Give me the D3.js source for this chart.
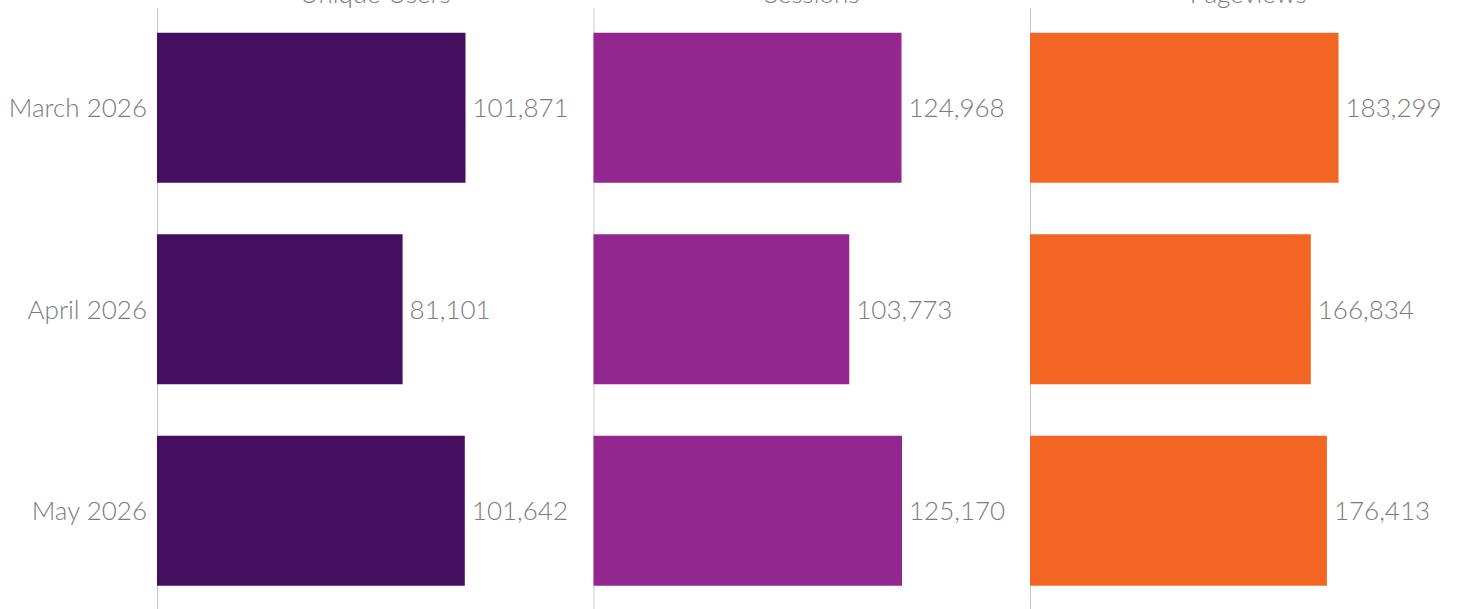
<!DOCTYPE html>
<html>
<head>
<meta charset="utf-8">
<script src="https://cdn.jsdelivr.net/npm/d3@7"></script>
<style>
  body { margin: 0; background: #fff; overflow: hidden; }
  text { font-family: Lato, "Open Sans", sans-serif; font-weight: 300; fill: #7b7b7b; }
</style>
</head>
<body>
<div id="chart"></div>
<script>
// --- Data ---
const months = ["March 2026", "April 2026", "May 2026"];
const metrics = ["Unique Users", "Sessions", "Pageviews"];
const uniqueUsers = [101871, 81101, 101642];
const sessions = [124968, 103773, 125170];
const pageviews = [183299, 166834, 176413];
const colors = ["#450f60", "#91278f", "#f36523"];

const series = [uniqueUsers, sessions, pageviews];

const width = 1458;
const height = 609;
const margin = { top: 7, left: 157 };
const panelW = 436.5;
const fontSize = 26;

const svg = d3.select("#chart")
  .append("svg")
  .attr("width", width)
  .attr("height", height);

// panels across, months down
const px = d3.scaleBand()
  .domain(metrics)
  .range([margin.left, margin.left + panelW * metrics.length]);

const y = d3.scaleBand()
  .domain(months)
  .range([margin.top, margin.top + 604.5])
  .paddingInner(0.2556)
  .paddingOuter(0.1278);

const fmt = d3.format(",");

// --- Row labels ---
svg.append("g")
  .selectAll("text")
  .data(months)
  .join("text")
  .attr("x", margin.left - 10)
  .attr("y", d => y(d) + y.bandwidth() / 2)
  .attr("dy", "0.36em")
  .attr("text-anchor", "end")
  .attr("font-size", fontSize)
  .text(d => d);

metrics.forEach((m, i) => {
  const vals = series[i];
  const x0 = px(m);
  // independent axis per panel
  const x = d3.scaleLinear()
    .domain([0, d3.max(vals) * panelW / 308.5])
    .range([x0, x0 + panelW]);

  const g = svg.append("g");

  // zero line
  g.append("line")
    .attr("x1", x(0) + 0.5)
    .attr("x2", x(0) + 0.5)
    .attr("y1", 8)
    .attr("y2", height)
    .attr("stroke", "#c8c8c8")
    .attr("stroke-width", 1);

  // header (cut off at top, as in the source)
  g.append("text")
    .attr("x", x0 + panelW / 2)
    .attr("y", 3)
    .attr("text-anchor", "middle")
    .attr("font-size", fontSize)
    .text(m);

  g.selectAll("rect")
    .data(vals)
    .join("rect")
    .attr("x", x(0))
    .attr("y", (d, j) => y(months[j]))
    .attr("width", d => x(d) - x(0))
    .attr("height", y.bandwidth())
    .attr("fill", colors[i]);

  g.selectAll("text.val")
    .data(vals)
    .join("text")
    .attr("class", "val")
    .attr("x", d => x(d) + 7)
    .attr("y", (d, j) => y(months[j]) + y.bandwidth() / 2)
    .attr("dy", "0.36em")
    .attr("font-size", fontSize)
    .text(d => fmt(d));
});
</script>
</body>
</html>
